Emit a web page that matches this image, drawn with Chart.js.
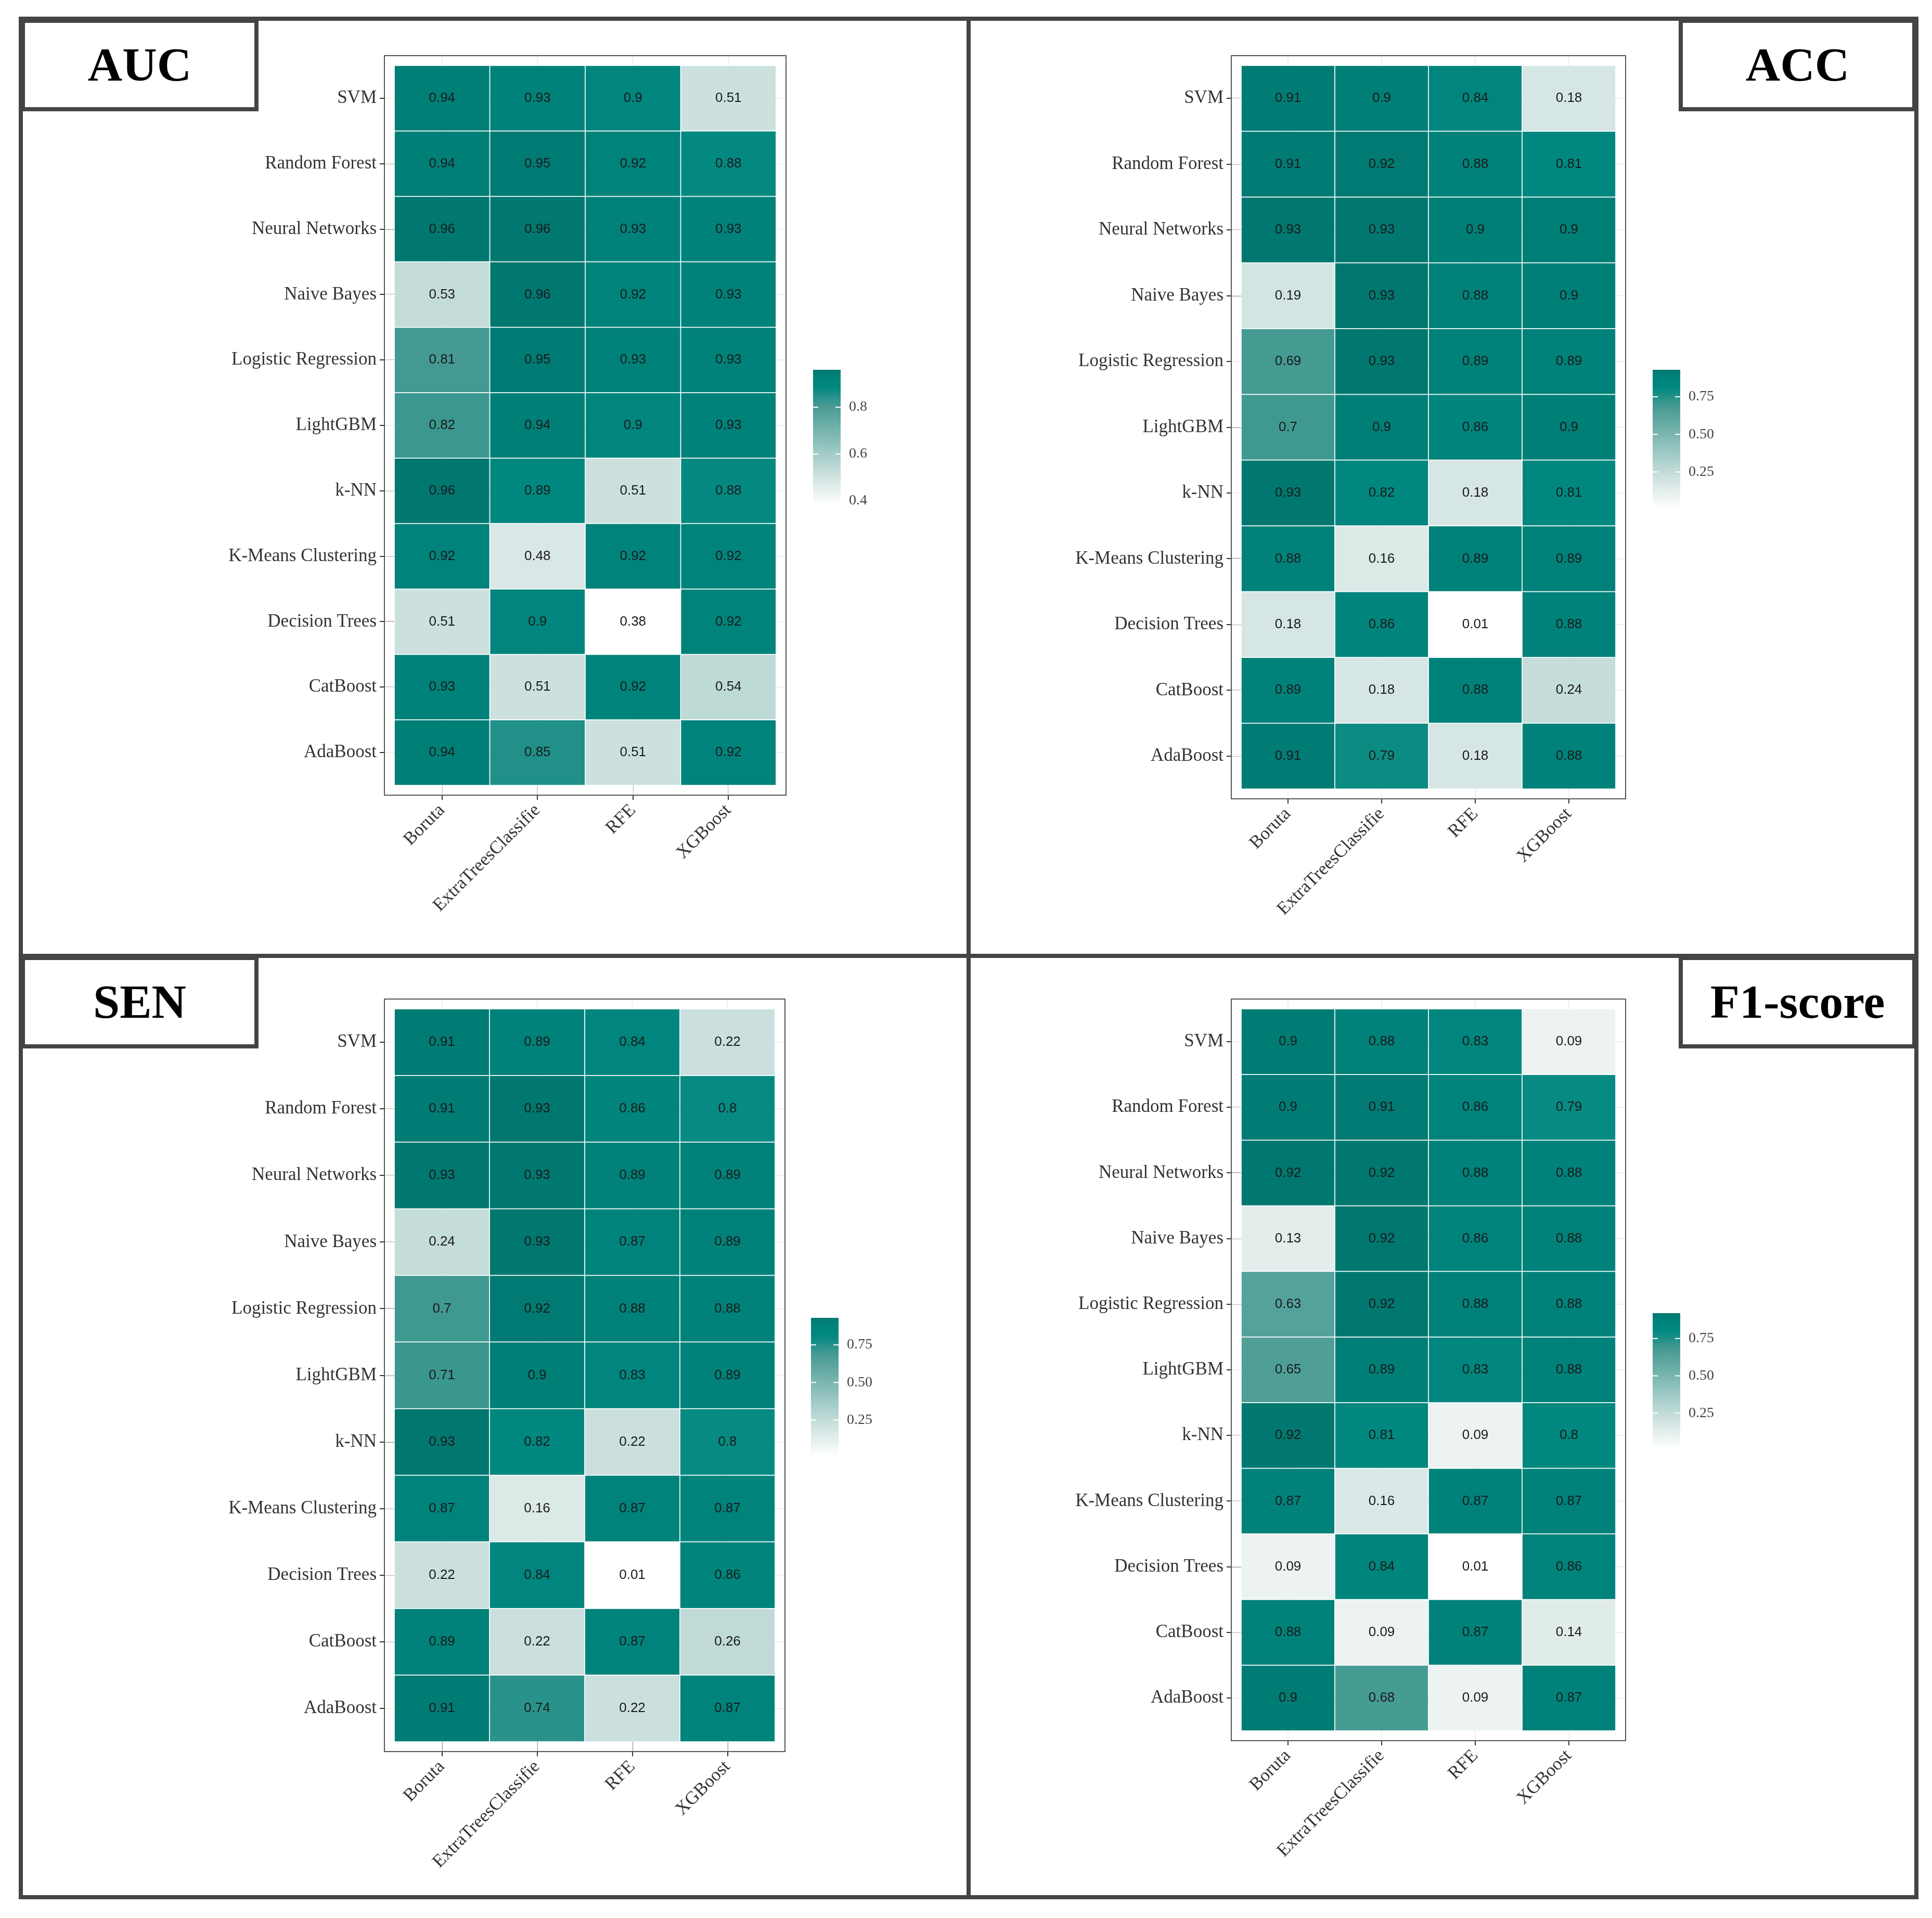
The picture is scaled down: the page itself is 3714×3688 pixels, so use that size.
<!DOCTYPE html>
<html><head><meta charset="utf-8">
<script src="https://cdn.jsdelivr.net/npm/chart.js@4/dist/chart.umd.min.js"></script>
<style>
body{margin:0;background:#fff;width:3714px;height:3688px;position:relative;overflow:hidden}
canvas{position:absolute}
.line{position:absolute;background:#444}
</style></head><body>
<canvas id="c0"></canvas><canvas id="c1"></canvas><canvas id="c2"></canvas><canvas id="c3"></canvas>
<div class="line" style="left:36px;top:32px;width:3652px;height:8px"></div>
<div class="line" style="left:36px;top:3644px;width:3652px;height:8px"></div>
<div class="line" style="left:36px;top:32px;width:8px;height:3620px"></div>
<div class="line" style="left:3680px;top:32px;width:8px;height:3620px"></div>
<div class="line" style="left:1858px;top:32px;width:8px;height:3620px"></div>
<div class="line" style="left:36px;top:1834px;width:3652px;height:8px"></div>
<script>
const methods = ['Boruta','ExtraTreesClassifie','RFE','XGBoost'];
const models = ['SVM','Random Forest','Neural Networks','Naive Bayes','Logistic Regression','LightGBM','k-NN','K-Means Clustering','Decision Trees','CatBoost','AdaBoost'];
const aucValues = [
 [0.94,0.93,0.9,0.51],[0.94,0.95,0.92,0.88],[0.96,0.96,0.93,0.93],[0.53,0.96,0.92,0.93],
 [0.81,0.95,0.93,0.93],[0.82,0.94,0.9,0.93],[0.96,0.89,0.51,0.88],[0.92,0.48,0.92,0.92],
 [0.51,0.9,0.38,0.92],[0.93,0.51,0.92,0.54],[0.94,0.85,0.51,0.92]];
const accValues = [
 [0.91,0.9,0.84,0.18],[0.91,0.92,0.88,0.81],[0.93,0.93,0.9,0.9],[0.19,0.93,0.88,0.9],
 [0.69,0.93,0.89,0.89],[0.7,0.9,0.86,0.9],[0.93,0.82,0.18,0.81],[0.88,0.16,0.89,0.89],
 [0.18,0.86,0.01,0.88],[0.89,0.18,0.88,0.24],[0.91,0.79,0.18,0.88]];
const senValues = [
 [0.91,0.89,0.84,0.22],[0.91,0.93,0.86,0.8],[0.93,0.93,0.89,0.89],[0.24,0.93,0.87,0.89],
 [0.7,0.92,0.88,0.88],[0.71,0.9,0.83,0.89],[0.93,0.82,0.22,0.8],[0.87,0.16,0.87,0.87],
 [0.22,0.84,0.01,0.86],[0.89,0.22,0.87,0.26],[0.91,0.74,0.22,0.87]];
const f1Values = [
 [0.9,0.88,0.83,0.09],[0.9,0.91,0.86,0.79],[0.92,0.92,0.88,0.88],[0.13,0.92,0.86,0.88],
 [0.63,0.92,0.88,0.88],[0.65,0.89,0.83,0.88],[0.92,0.81,0.09,0.8],[0.87,0.16,0.87,0.87],
 [0.09,0.84,0.01,0.86],[0.88,0.09,0.87,0.14],[0.9,0.68,0.09,0.87]];
const aucTicks=[0.4,0.6,0.8], rateTicks=[0.25,0.5,0.75];
const aucTickLabels=['0.4','0.6','0.8'], rateTickLabels=['0.25','0.50','0.75'];

const STOPS=[[0,[255,255,255]],[0.185,[214,230,228]],[0.74,[69,154,146]],[0.87,[0,136,128]],[0.95,[0,130,122]],[1,[0,120,112]]];
function col(v,mn,mx){const t=Math.max(0,Math.min(1,(v-mn)/(mx-mn)));
 for(let i=1;i<STOPS.length;i++){if(t<=STOPS[i][0]){const [t0,c0]=STOPS[i-1],[t1,c1]=STOPS[i];const u=(t-t0)/(t1-t0);
  const c=c0.map((x,k)=>Math.round(x+(c1[k]-x)*u));return `rgb(${c[0]},${c[1]},${c[2]})`;}}
 return 'rgb(0,120,112)';}

const panels=[
 {id:'c0',title:'AUC',data:aucValues,ticks:aucTicks,tl:aucTickLabels,left:40,top:36,w:1822,h:1802,
  area:{l:718,r:1452,t:90,b:1474},cb:{x:1523,y:675,w:53,h:261},titleRight:false},
 {id:'c1',title:'ACC',data:accValues,ticks:rateTicks,tl:rateTickLabels,left:1862,top:36,w:1822,h:1802,
  area:{l:524,r:1244,t:90,b:1481},cb:{x:1315,y:675,w:53,h:266},titleRight:true},
 {id:'c2',title:'SEN',data:senValues,ticks:rateTicks,tl:rateTickLabels,left:40,top:1838,w:1822,h:1810,
  area:{l:718,r:1450,t:102,b:1511},cb:{x:1519,y:696,w:53,h:266},titleRight:false},
 {id:'c3',title:'F1-score',data:f1Values,ticks:rateTicks,tl:rateTickLabels,left:1862,top:1838,w:1822,h:1810,
  area:{l:524,r:1244,t:102,b:1490},cb:{x:1315,y:687,w:53,h:261},titleRight:true}];

panels.forEach(p=>{
 const all=p.data.flat(); const mn=Math.min(...all), mx=Math.max(...all);
 const cv=document.getElementById(p.id);
 cv.style.left=p.left+'px'; cv.style.top=p.top+'px'; cv.style.width=p.w+'px'; cv.style.height=p.h+'px';
 cv.width=p.w; cv.height=p.h;
 const n=models.length;
 const datasets=[];
 for(let i=0;i<n;i++){
  const row=p.data[n-1-i];
  datasets.push({data:row.map(()=>1),vals:row,backgroundColor:row.map(v=>col(v,mn,mx)),
   borderColor:'rgba(255,255,255,0.3)',borderWidth:1.2,borderSkipped:false,barPercentage:1,categoryPercentage:1});
 }
 const deco={id:'deco',
  beforeDatasetsDraw(ch){const a=ch.chartArea,c=ch.ctx;c.save();c.strokeStyle='#eeeeee';c.lineWidth=2;
   const xs=ch.scales.x, ys=ch.scales.y;
   methods.forEach((m,i)=>{const x=xs.getPixelForValue(i);c.beginPath();c.moveTo(x,a.top-19);c.lineTo(x,a.bottom+19);c.stroke();});
   for(let i=0;i<n;i++){const y=ys.getPixelForValue(i+0.5);c.beginPath();c.moveTo(a.left-19,y);c.lineTo(a.right+19,y);c.stroke();}
   c.restore();},
  afterDraw(ch){const a=ch.chartArea,c=ch.ctx;c.save();
   c.strokeStyle='#555';c.lineWidth=2;c.strokeRect(a.left-19,a.top-19,a.right-a.left+38,a.bottom-a.top+38);
   c.fillStyle='#1a1a1a';c.font='26px "Liberation Sans"';c.textAlign='center';c.textBaseline='middle';
   ch.data.datasets.forEach((ds,di)=>{ch.getDatasetMeta(di).data.forEach((el,j)=>{
     const cx=el.x, cy=(el.y+el.base)/2; c.fillText(String(ds.vals[j]),cx,cy);});});
   const b=p.cb;const g=c.createLinearGradient(0,b.y+b.h,0,b.y);
   for(let k=0;k<=40;k++){g.addColorStop(k/40,col(mn+(mx-mn)*k/40,mn,mx));}
   c.fillStyle=g;c.fillRect(b.x,b.y,b.w,b.h);
   c.font='28px "Liberation Serif"';c.textAlign='left';c.fillStyle='#444';
   p.ticks.forEach((t,k)=>{const y=b.y+b.h-(t-mn)/(mx-mn)*b.h;
     c.strokeStyle='#fff';c.lineWidth=2;c.beginPath();c.moveTo(b.x,y);c.lineTo(b.x+10,y);c.moveTo(b.x+b.w-10,y);c.lineTo(b.x+b.w,y);c.stroke();
     c.fillText(p.tl[k],b.x+b.w+16,y);});
   const bw=457,bh=178,bx=p.titleRight?p.w-bw:0;
   c.fillStyle='#fff';c.fillRect(bx,0,bw,bh);
   c.strokeStyle='#444';c.lineWidth=8;c.strokeRect(bx+4,4,bw-8,bh-8);
   c.fillStyle='#000';c.font='bold 92px "Liberation Serif"';c.textAlign='center';c.textBaseline='middle';
   c.fillText(p.title,bx+bw/2,bh/2+6);
   c.restore();}};
 new Chart(cv,{type:'bar',data:{labels:methods,datasets},
  options:{responsive:false,animation:false,devicePixelRatio:1,
   layout:{padding:{top:p.area.t,right:p.w-p.area.r,left:0,bottom:0}},
   plugins:{legend:{display:false},tooltip:{enabled:false}},
   scales:{
    x:{stacked:true,offset:true,border:{display:false},
     grid:{display:true,drawOnChartArea:false,drawTicks:true,tickLength:28,offset:false,color:'#333',lineWidth:2},
     ticks:{minRotation:45,maxRotation:45,autoSkip:false,color:'#333',font:{family:'Liberation Serif',size:35},padding:0},
     afterFit(s){s.height=p.h-p.area.b;}},
    y:{stacked:true,min:0,max:n,border:{display:false},
     afterBuildTicks(s){s.ticks=models.map((m,i)=>({value:i+0.5}));},
     grid:{display:true,drawOnChartArea:false,drawTicks:true,tickLength:28,color:'#333',lineWidth:2},
     ticks:{autoSkip:false,color:'#333',font:{family:'Liberation Serif',size:35},padding:6,
      callback:(v,i)=>models[n-1-i]},
     afterFit(s){s.width=p.area.l;}}}},
  plugins:[deco]});
});
</script></body></html>
